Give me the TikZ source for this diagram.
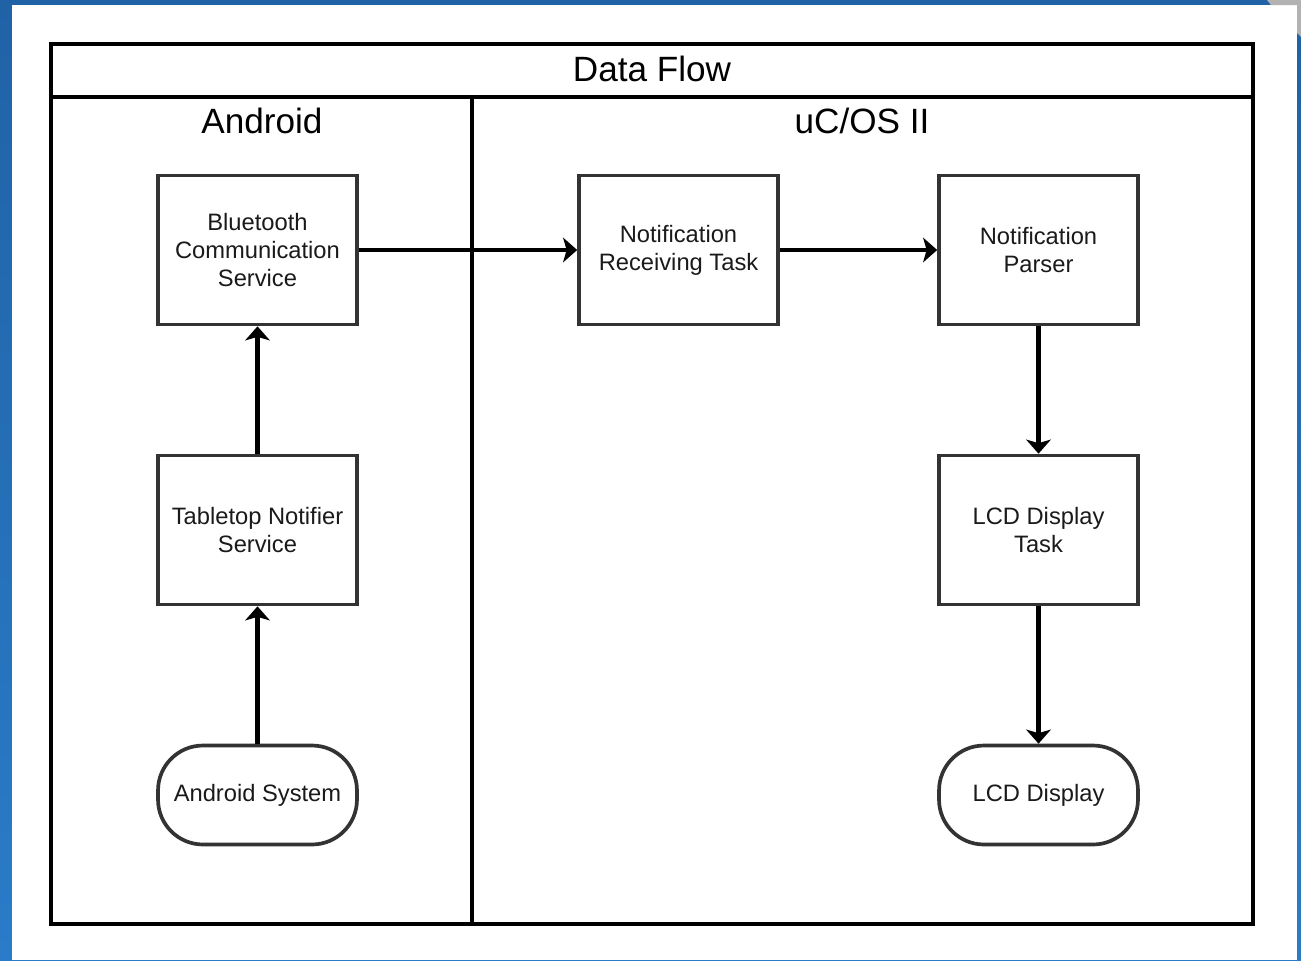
\documentclass[tikz,border=0pt]{standalone}
\usepackage{fontspec}
\setmainfont{Liberation Sans}
\usetikzlibrary{arrows.meta}
\definecolor{pageblue}{HTML}{2062A6}
\definecolor{pageblue2}{HTML}{2A7CC8}
\definecolor{boxgray}{HTML}{333333}
\definecolor{textgray}{HTML}{1A1A1A}
\tikzset{
  task/.style={draw=boxgray, line width=2.1pt, minimum width=3.98cm, minimum height=2.98cm,
    align=center, text=textgray, font=\fontsize{13.5}{16}\selectfont},
  terminal/.style={task, rounded corners=0.9cm, minimum height=1.98cm},
  lane/.style={line width=2.3pt, draw=black},
  heading/.style={anchor=base, text=black, font=\fontsize{20}{24}\selectfont},
  flow/.style={line width=2.3pt, draw=black, -{Stealth[width=14pt,length=8pt,inset=2pt]}}
}
\begin{document}
\begin{tikzpicture}[x=0.02cm,y=-0.02cm]
	\useasboundingbox (0,0) rectangle (1301,960);
	% page behind the chart
	\fill[top color=pageblue, bottom color=pageblue2] (0,0) rectangle (1301,960);
	\fill[white] (12,5) rectangle (1297,960);
	\fill[gray!60] (1267,0)--(1301,0)--(1301,37)--(1297,33)--(1297,5)--(1271,5)--cycle;
	% swim lanes
	\draw[lane] (51,44) rectangle (1253,924);
	\draw[lane] (51,97)--(1253,97) (472,97)--(472,924);
	\node[heading] (title) at (652,81) {Data Flow};
	\node[heading] (android) at (262,133) {Android};
	\node[heading] (ucos) at (862,133) {uC/OS II};
	% tasks
	\node[task] (bcs) at (257.5,250) {Bluetooth\\Communication\\Service};
	\node[task] (tns) at (257.5,530) {Tabletop Notifier\\Service};
	\node[terminal] (sys) at (257.5,795) {Android System};
	\node[task] (nrt) at (678.5,250) {Notification\\Receiving Task};
	\node[task] (parser) at (1038.5,250) {Notification\\Parser};
	\node[task] (lcdtask) at (1038.5,530) {LCD Display\\Task};
	\node[terminal] (lcd) at (1038.5,795) {LCD Display};
	% data flow
	\draw[flow] (sys) -- (tns);
	\draw[flow] (tns) -- (bcs);
	\draw[flow] (bcs) -- (nrt);
	\draw[flow] (nrt) -- (parser);
	\draw[flow] (parser) -- (lcdtask);
	\draw[flow] (lcdtask) -- (lcd);
\end{tikzpicture}
\end{document}
